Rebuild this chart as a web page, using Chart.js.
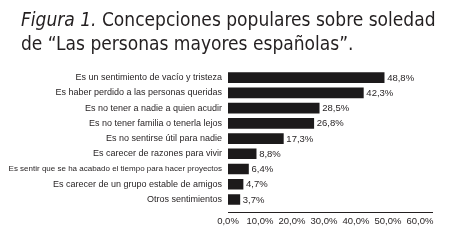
<!DOCTYPE html>
<html><head><meta charset="utf-8">
<script src="https://cdn.jsdelivr.net/npm/chart.js@4"></script>
<style>
html,body{margin:0;padding:0;background:#fff;}
#wrap{position:relative;width:452px;height:242px;overflow:hidden;}
#title{position:absolute;left:21px;top:7px;font-family:"DejaVu Sans Condensed","DejaVu Sans",sans-serif;font-size:19px;line-height:24px;color:#231f20;white-space:nowrap;}
canvas{position:absolute;left:0;top:0;}
</style></head><body>
<div id="wrap"><canvas id="c" width="452" height="242"></canvas>
<div id="title"><i>Figura 1.</i> Concepciones populares sobre soledad<br>de “Las personas mayores españolas”.</div></div>
<script>
const categories = [
  "Es un sentimiento de vacío y tristeza",
  "Es haber perdido a las personas queridas",
  "Es no tener a nadie a quien acudir",
  "Es no tener familia o tenerla lejos",
  "Es no sentirse útil para nadie",
  "Es carecer de razones para vivir",
  "Es sentir que se ha acabado el tiempo para hacer proyectos",
  "Es carecer de un grupo estable de amigos",
  "Otros sentimientos"
];
const values = [48.8, 42.3, 28.5, 26.8, 17.3, 8.8, 6.4, 4.7, 3.7];
const xTicks = [0, 10, 20, 30, 40, 50, 60];

const fmt = v => v.toFixed(1).replace('.', ',') + '%';
const ink = '#231f20';
const narrow = '"Liberation Sans Narrow", "Arial Narrow", sans-serif';
Chart.defaults.font.family = narrow;
Chart.defaults.font.size = 10;
Chart.defaults.color = ink;

const valueLabels = {
  id: 'valueLabels',
  afterDatasetsDraw(chart) {
    const ctx = chart.ctx;
    const meta = chart.getDatasetMeta(0);
    ctx.save();
    ctx.font = '9.5px ' + narrow;
    ctx.fillStyle = ink;
    ctx.textBaseline = 'middle';
    ctx.textAlign = 'left';
    meta.data.forEach((bar, i) => ctx.fillText(fmt(values[i]), bar.x + 3, bar.y + 0.5));
    ctx.restore();
  }
};

new Chart(document.getElementById('c'), {
  type: 'bar',
  data: {
    datasets: [{
      data: values.map((v, i) => ({ x: v, y: i })),
      backgroundColor: '#1c1a1b',
      barThickness: 10
    }]
  },
  options: {
    indexAxis: 'y',
    responsive: false,
    animation: false,
    layout: { padding: { top: 70, right: 20, bottom: 12, left: 0 } },
    plugins: { legend: { display: false }, tooltip: { enabled: false } },
    scales: {
      y: {
        type: 'linear',
        reverse: true,
        offset: false,
        min: -0.5,
        max: 8.86,
        grid: { display: false, drawTicks: false, offset: false },
        border: { display: false },
        afterBuildTicks: s => { s.ticks = categories.map((_, i) => ({ value: i })); },
        afterFit: s => { s.width = 228; },
        ticks: {
          autoSkip: false,
          padding: 6,
          font: c => ({ size: (categories[c.index] || '').length > 45 ? 8 : 9 }),
          callback: v => categories[Math.round(v)]
        }
      },
      x: {
        type: 'linear',
        min: 0,
        max: 63.75,
        grid: { display: false, drawTicks: false },
        border: { display: true, color: ink, width: 1 },
        afterBuildTicks: s => { s.ticks = xTicks.map(v => ({ value: v })); },
        ticks: { padding: 3, maxRotation: 0, autoSkip: false, font: { size: 9.5 }, callback: v => fmt(v) }
      }
    }
  },
  plugins: [valueLabels]
});
</script>
</body></html>
